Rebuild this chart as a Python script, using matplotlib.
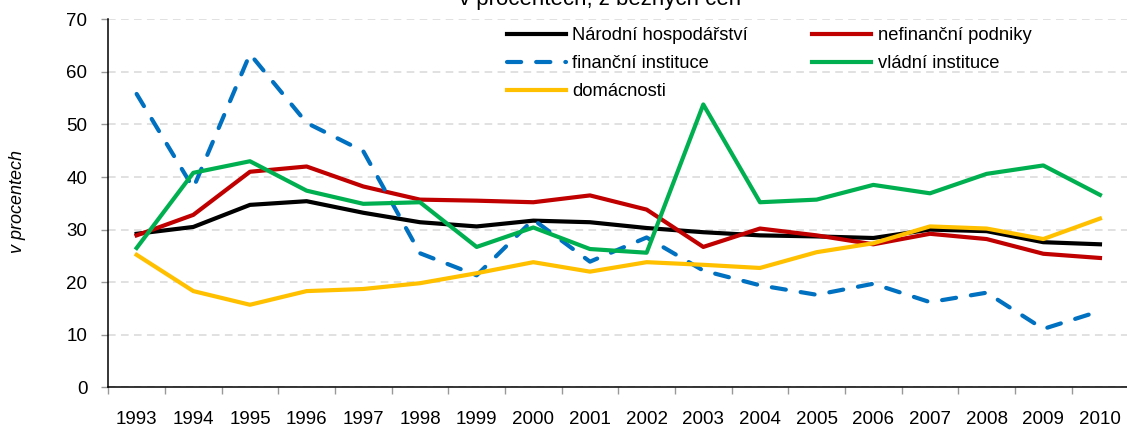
import matplotlib
matplotlib.use("Agg")
import matplotlib.pyplot as plt

plt.rcParams['font.family'] = ['Liberation Sans', 'DejaVu Sans']

# data (v procentech)
years = [str(y) for y in range(1993, 2011)]
narodni = [29.2, 30.5, 34.7, 35.4, 33.2, 31.4, 30.6, 31.7, 31.4, 30.3,
           29.5, 28.9, 28.7, 28.4, 30.0, 29.7, 27.6, 27.2]
nefinancni = [28.9, 32.8, 41.0, 42.0, 38.2, 35.7, 35.5, 35.2, 36.5, 33.8,
              26.7, 30.2, 28.9, 27.2, 29.2, 28.2, 25.4, 24.6]
financni = [55.8, 37.9, 63.4, 50.3, 44.9, 25.5, 21.3, 31.9, 23.9, 28.5,
            22.2, 19.4, 17.6, 19.7, 16.2, 18.0, 11.1, 14.5]
vladni = [26.5, 40.8, 43.0, 37.4, 34.9, 35.2, 26.7, 30.4, 26.3, 25.6,
          53.8, 35.2, 35.7, 38.5, 36.9, 40.6, 42.2, 36.6]
domacnosti = [25.2, 18.3, 15.7, 18.3, 18.7, 19.8, 21.7, 23.8, 22.0, 23.8,
              23.3, 22.7, 25.7, 27.4, 30.6, 30.2, 28.2, 32.1]

W, H, DPI = 1127, 430, 100
fig = plt.figure(figsize=(W / DPI, H / DPI), dpi=DPI)
ax = fig.add_axes([108.3 / W, 1 - 387.3 / H, (1128.3 - 108.3) / W, (387.3 - 19.3) / H])

x = list(range(len(years)))
lw = 3.0
l_nar, = ax.plot(x, narodni, color="#000000", lw=lw, label="Národní hospodářství")
l_nef, = ax.plot(x, nefinancni, color="#C00000", lw=lw, label="nefinanční podniky")
l_fin, = ax.plot(x, financni, color="#0070C0", lw=lw, label="finanční instituce",
                 linestyle=(0, (3.4, 3.6)), dash_capstyle="round")
l_vla, = ax.plot(x, vladni, color="#00B050", lw=lw, label="vládní instituce")
l_dom, = ax.plot(x, domacnosti, color="#FFC000", lw=lw, label="domácnosti")

ax.set_ylim(0, 70)
ax.set_yticks(range(0, 71, 10))
ax.set_xlim(-0.5, len(years) - 0.5)
ax.set_xticks([i - 0.5 for i in range(len(years) + 1)])
ax.set_xticklabels([])
ax.set_xticks(x, minor=True)
ax.set_xticklabels(years, minor=True)

ax.tick_params(axis="x", which="major", length=5, color="#999999", width=1)
ax.tick_params(axis="x", which="minor", length=0, pad=17, labelsize=13.5)
ax.tick_params(axis="y", length=5, color="#999999", width=1, pad=10, labelsize=13.5)

ax.yaxis.grid(True, color="#d9d9d9", linestyle=(0, (5, 3.5)), lw=1.1)
ax.set_axisbelow(True)
for s in ["top", "right"]:
    ax.spines[s].set_visible(False)
ax.spines["left"].set_linewidth(1.1)
ax.spines["bottom"].set_linewidth(1.1)
ax.spines["bottom"].set_clip_on(False)

leg = ax.legend(handles=[l_nar, l_fin, l_dom, l_nef, l_vla], ncol=2,
                loc="upper left", bbox_to_anchor=(507 / W, 1 - 27 / H),
                bbox_transform=fig.transFigure, frameon=False, fontsize=13.2,
                handlelength=3.2, handletextpad=0.37, columnspacing=3.5,
                labelspacing=0.6, borderpad=0, borderaxespad=0)

fig.text(600.5 / W, 1 - 5.5 / H, "v procentech, z běžných cen", ha="center",
         va="baseline", fontsize=16)
fig.text(18 / W, 1 - 201.5 / H, "v procentech", rotation=90, ha="center",
         va="center", fontsize=13, style="italic")

fig.savefig("out.png", dpi=DPI)
